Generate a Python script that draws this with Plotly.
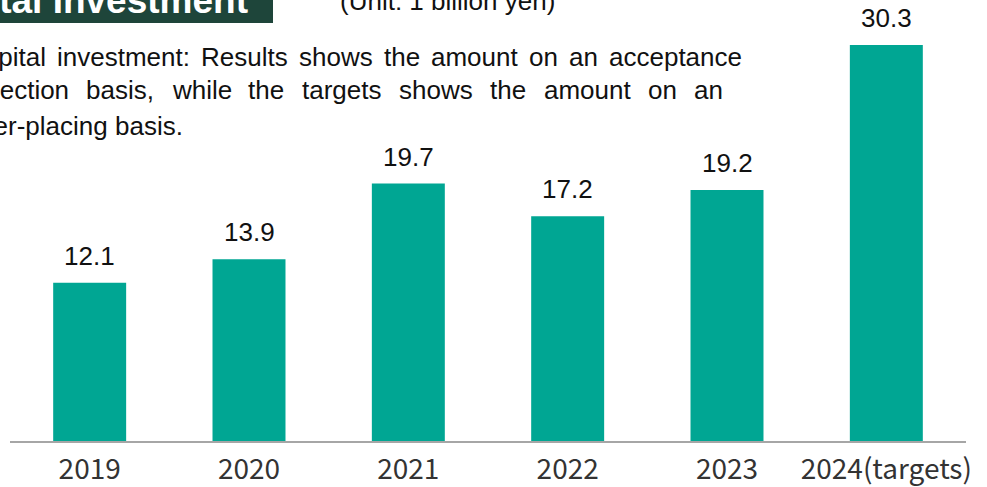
import plotly.graph_objects as go

# Capital investment by fiscal year (unit: 1 billion yen)
years = ["2019", "2020", "2021", "2022", "2023", "2024(targets)"]
investment = [12.1, 13.9, 19.7, 17.2, 19.2, 30.3]
positions = list(range(len(years)))

bar_color = "#00A693"
header_color = "#1E453A"

W, H = 987, 487
M_L, M_R, M_T, M_B = 10, 21, 10, 46
PW, PH = W - M_L - M_R, H - M_T - M_B
Y_MAX = 32.98

# Arial / Liberation Sans advance widths (em) for laying out justified text
ARIAL_W = {
    " ": .278, ",": .278, ".": .278, ":": .278, "-": .333,
    "a": .556, "b": .556, "c": .5, "d": .556, "e": .556, "g": .556, "h": .556,
    "i": .222, "l": .222, "m": .833, "n": .556, "o": .556, "p": .556, "r": .333,
    "s": .5, "t": .278, "u": .556, "v": .5, "w": .722, "y": .5,
    "C": .722, "R": .722,
}


def text_width(s, size):
    return sum(ARIAL_W.get(ch, .556) for ch in s) * size


def px_x(px):
    """Pixel column -> paper x."""
    return (px - M_L) / PW


def px_y(py):
    """Pixel row -> paper y."""
    return (H - M_B - py) / PH


fig = go.Figure(
    go.Bar(
        x=positions,
        y=investment,
        marker=dict(color=bar_color, line=dict(width=0)),
        hovertext=years,
        hoverinfo="text+y",
    )
)

FONT_SIZE = 26
body_font = dict(family="Liberation Sans, Arial, sans-serif", size=FONT_SIZE, color="#111111")
annotations = []

# value labels above each bar
for pos, v in zip(positions, investment):
    annotations.append(dict(
        x=pos, y=v, xref="x", yref="y", text=f"{v:.1f}",
        showarrow=False, xanchor="center", yanchor="bottom", yshift=10,
        font=dict(family="Liberation Sans, Arial, sans-serif", size=26, color="#111111"),
    ))

# section header
annotations.append(dict(
    x=px_x(250), y=px_y(1), xref="paper", yref="paper", text="<b>Capital Investment</b>",
    showarrow=False, xanchor="right", yanchor="middle",
    font=dict(family="Liberation Sans, Arial, sans-serif", size=37, color="white"),
))
annotations.append(dict(
    x=px_x(338), y=px_y(1), xref="paper", yref="paper", text="(Unit: 1 billion yen)",
    showarrow=False, xanchor="left", yanchor="middle", font=body_font,
))


def justified_line(text, left, right, center_y):
    """Spread the words of one line evenly between two pixel columns."""
    words = text.split(" ")
    widths = [text_width(w, FONT_SIZE) for w in words]
    gap = (right - left - sum(widths)) / (len(words) - 1)
    x = left
    for w, wd in zip(words, widths):
        annotations.append(dict(
            x=px_x(x - 1), y=px_y(center_y), xref="paper", yref="paper", text=w,
            showarrow=False, xanchor="left", yanchor="middle", font=body_font,
        ))
        x += wd + gap


# explanatory note (justified paragraph)
justified_line("Capital investment: Results shows the amount on an acceptance", -36, 741, 57)
justified_line("inspection basis, while the targets shows the amount on an", -49, 722, 90)
annotations.append(dict(
    x=px_x(-45 - 1), y=px_y(126), xref="paper", yref="paper", text="order-placing basis.",
    showarrow=False, xanchor="left", yanchor="middle", font=body_font,
))

shapes = [dict(
    type="rect", xref="paper", yref="paper",
    x0=px_x(-5), x1=px_x(273), y0=px_y(23), y1=px_y(-5),
    fillcolor=header_color, line=dict(width=0), layer="below",
)]

fig.update_layout(
    width=W, height=H,
    margin=dict(l=M_L, r=M_R, t=M_T, b=M_B, pad=0, autoexpand=False),
    paper_bgcolor="white", plot_bgcolor="white",
    bargap=0.542,
    showlegend=False,
    annotations=annotations,
    shapes=shapes,
    xaxis=dict(
        range=[-0.5, len(years) - 0.5],
        tickmode="array", tickvals=positions, ticktext=years,
        showline=True, linecolor="#A6A6A6", linewidth=2,
        showgrid=False, ticks="", zeroline=False, automargin=False,
        tickfont=dict(family="Noto Sans CJK JP, sans-serif", size=28, color="#333333"),
        ticklabelstandoff=2,
    ),
    yaxis=dict(
        range=[0, Y_MAX], visible=False, showgrid=False, zeroline=False, automargin=False,
    ),
)

fig.write_html("out.html")
